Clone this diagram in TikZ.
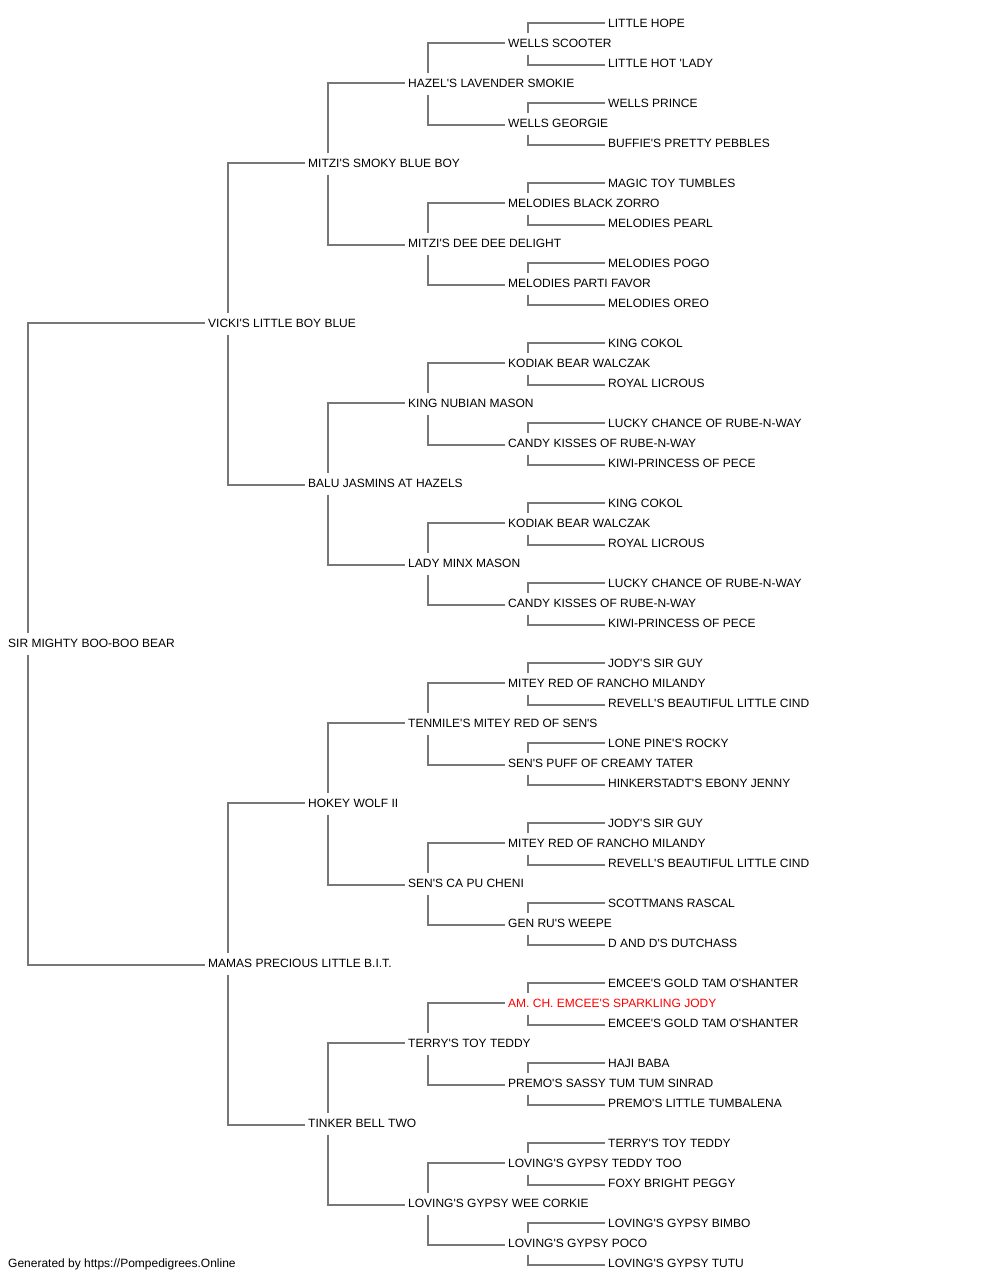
\documentclass[tikz,border=0pt]{standalone}
\usepackage{fontspec}
\setmainfont{Liberation Sans}[Ligatures=TeXOff]
\definecolor{linegray}{HTML}{777777}
\definecolor{champred}{HTML}{FF0000}
\tikzset{
  person/.style={anchor=base west, inner xsep=3pt, inner ysep=5.3pt,
    text height=9pt, text depth=1.4pt, font=\fontsize{12pt}{14pt}\selectfont},
  champion/.style={text=champred},
  link/.style={draw=linegray, line width=1.4pt},
}
% #2 = slot (row), #3 = generation (0 = subject)
\newcommand{\pedperson}[4][]{\node[person,#1] (n#2) at ({5+100*#3+100*(#3>0)},{27.6+20*#2}) {#4};}
\begin{document}
\begin{tikzpicture}[x=1pt,y=-1pt]
\useasboundingbox (0,0) rectangle (1000,1280);
\pedperson{0}{5}{LITTLE HOPE}
\pedperson{1}{4}{WELLS SCOOTER}
\pedperson{2}{5}{LITTLE HOT 'LADY}
\pedperson{3}{3}{HAZEL'S LAVENDER SMOKIE}
\pedperson{4}{5}{WELLS PRINCE}
\pedperson{5}{4}{WELLS GEORGIE}
\pedperson{6}{5}{BUFFIE'S PRETTY PEBBLES}
\pedperson{7}{2}{MITZI'S SMOKY BLUE BOY}
\pedperson{8}{5}{MAGIC TOY TUMBLES}
\pedperson{9}{4}{MELODIES BLACK ZORRO}
\pedperson{10}{5}{MELODIES PEARL}
\pedperson{11}{3}{MITZI'S DEE DEE DELIGHT}
\pedperson{12}{5}{MELODIES POGO}
\pedperson{13}{4}{MELODIES PARTI FAVOR}
\pedperson{14}{5}{MELODIES OREO}
\pedperson{15}{1}{VICKI'S LITTLE BOY BLUE}
\pedperson{16}{5}{KING COKOL}
\pedperson{17}{4}{KODIAK BEAR WALCZAK}
\pedperson{18}{5}{ROYAL LICROUS}
\pedperson{19}{3}{KING NUBIAN MASON}
\pedperson{20}{5}{LUCKY CHANCE OF RUBE-N-WAY}
\pedperson{21}{4}{CANDY KISSES OF RUBE-N-WAY}
\pedperson{22}{5}{KIWI-PRINCESS OF PECE}
\pedperson{23}{2}{BALU JASMINS AT HAZELS}
\pedperson{24}{5}{KING COKOL}
\pedperson{25}{4}{KODIAK BEAR WALCZAK}
\pedperson{26}{5}{ROYAL LICROUS}
\pedperson{27}{3}{LADY MINX MASON}
\pedperson{28}{5}{LUCKY CHANCE OF RUBE-N-WAY}
\pedperson{29}{4}{CANDY KISSES OF RUBE-N-WAY}
\pedperson{30}{5}{KIWI-PRINCESS OF PECE}
\pedperson{31}{0}{SIR MIGHTY BOO-BOO BEAR}
\pedperson{32}{5}{JODY'S SIR GUY}
\pedperson{33}{4}{MITEY RED OF RANCHO MILANDY}
\pedperson{34}{5}{REVELL'S BEAUTIFUL LITTLE CIND}
\pedperson{35}{3}{TENMILE'S MITEY RED OF SEN'S}
\pedperson{36}{5}{LONE PINE'S ROCKY}
\pedperson{37}{4}{SEN'S PUFF OF CREAMY TATER}
\pedperson{38}{5}{HINKERSTADT'S EBONY JENNY}
\pedperson{39}{2}{HOKEY WOLF II}
\pedperson{40}{5}{JODY'S SIR GUY}
\pedperson{41}{4}{MITEY RED OF RANCHO MILANDY}
\pedperson{42}{5}{REVELL'S BEAUTIFUL LITTLE CIND}
\pedperson{43}{3}{SEN'S CA PU CHENI}
\pedperson{44}{5}{SCOTTMANS RASCAL}
\pedperson{45}{4}{GEN RU'S WEEPE}
\pedperson{46}{5}{D AND D'S DUTCHASS}
\pedperson{47}{1}{MAMAS PRECIOUS LITTLE B.I.T.}
\pedperson{48}{5}{EMCEE'S GOLD TAM O'SHANTER}
\pedperson[champion]{49}{4}{AM. CH. EMCEE'S SPARKLING JODY}
\pedperson{50}{5}{EMCEE'S GOLD TAM O'SHANTER}
\pedperson{51}{3}{TERRY'S TOY TEDDY}
\pedperson{52}{5}{HAJI BABA}
\pedperson{53}{4}{PREMO'S SASSY TUM TUM SINRAD}
\pedperson{54}{5}{PREMO'S LITTLE TUMBALENA}
\pedperson{55}{2}{TINKER BELL TWO}
\pedperson{56}{5}{TERRY'S TOY TEDDY}
\pedperson{57}{4}{LOVING'S GYPSY TEDDY TOO}
\pedperson{58}{5}{FOXY BRIGHT PEGGY}
\pedperson{59}{3}{LOVING'S GYPSY WEE CORKIE}
\pedperson{60}{5}{LOVING'S GYPSY BIMBO}
\pedperson{61}{4}{LOVING'S GYPSY POCO}
\pedperson{62}{5}{LOVING'S GYPSY TUTU}
\node[person] (footer) at (5,1267.3) {Generated by https://Pompedigrees.Online};
% connectors: parent slot / offset to its children
\foreach \p/\o in {31/16,15/8,47/8,7/4,23/4,39/4,55/4,3/2,11/2,19/2,27/2,35/2,43/2,51/2,59/2,
  1/1,5/1,9/1,13/1,17/1,21/1,25/1,29/1,33/1,37/1,41/1,45/1,49/1,53/1,57/1,61/1}{
  \pgfmathtruncatemacro\sire{\p-\o}
  \pgfmathtruncatemacro\dam{\p+\o}
  \draw[link] ([xshift=23pt]n\p.north west) |- ([yshift=4.6pt]n\sire.base west);
  \draw[link] ([xshift=23pt]n\p.south west) |- ([yshift=2.6pt]n\dam.base west);
}
\end{tikzpicture}
\end{document}
